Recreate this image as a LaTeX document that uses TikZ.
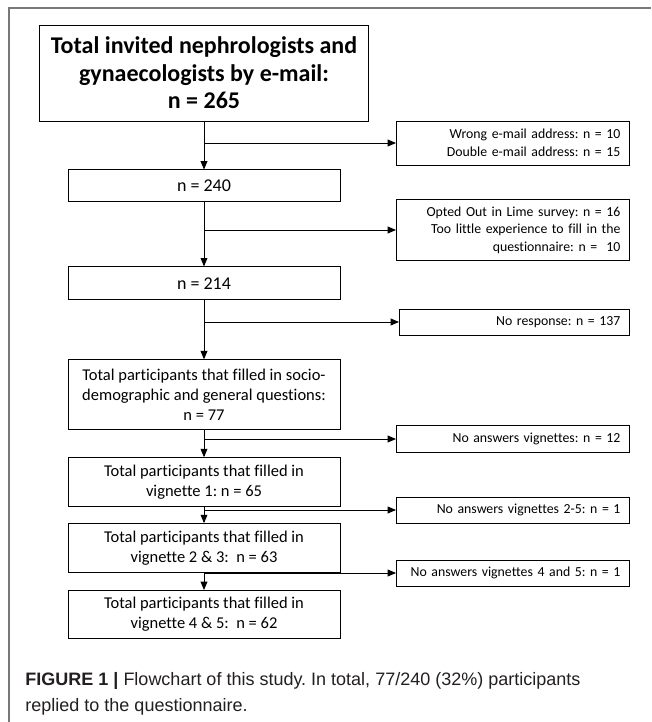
\documentclass[tikz,border=0pt]{standalone}
\usepackage{fontspec}
\setmainfont{Carlito}[Ligatures=CommonOff]
\newfontfamily\capfont{Liberation Sans}
\usetikzlibrary{arrows,positioning}
\definecolor{framegray}{RGB}{120,120,120}
\definecolor{captext}{RGB}{35,31,32}
\frenchspacing

\begin{document}
\begin{tikzpicture}[x=1pt,y=-1pt,->,>=triangle 45,line width=0.9pt,
  main box/.style={rectangle,draw,inner sep=0pt,minimum width=272pt,align=center,
    font=\fontsize{16.5}{20}\selectfont},
  side box/.style={rectangle,draw,inner sep=0pt,inner xsep=9pt,text width=215pt,
    align=right,anchor=west,font=\fontsize{13.8}{17.5}\selectfont}]

 \useasboundingbox (0,0) rectangle (651,722);
 \draw[-,framegray,line width=1.2pt] (9,722) -- (9,8) -- (651,8);

 \node[main box] (invited) at (204,73) [minimum width=329pt,minimum height=96pt,
   font=\fontsize{24}{27.5}\selectfont\bfseries] {Total invited nephrologists and\\gynaecologists by e-mail:\\n = 265};
 \node[main box] (n240) [below=48pt of invited,minimum height=32pt,font=\fontsize{18}{20}\selectfont] {n = 240};
 \node[main box] (n214) [below=64pt of n240,minimum height=33pt,font=\fontsize{18}{20}\selectfont] {n = 214};
 \node[main box] (socio) [below=59pt of n214,minimum height=70pt] {Total participants that filled in socio-\\demographic and general questions:\\n = 77};
 \node[main box] (vig1) [below=27pt of socio,minimum height=49pt] {Total participants that filled in\\vignette 1: n = 65};
 \node[main box] (vig23) [below=16pt of vig1,minimum height=49pt] {Total participants that filled in\\vignette 2 \& 3:~ n = 63};
 \node[main box] (vig45) [below=17pt of vig23,minimum height=48pt] {Total participants that filled in\\vignette 4 \& 5:~ n = 62};

 \node[side box] (email) at (396,143) [minimum height=44pt] {Wrong e-mail address: n = 10\\Double e-mail address: n = 15};
 \node[side box] (optout) at (396,230) [minimum height=61pt] {Opted Out in Lime survey: n = 16\\Too little experience to fill in the\\questionnaire: n = ~10};
 \node[side box] (noresp) at (399,322) [minimum height=26pt,text width=212pt] {No response: n = 137};
 \node[side box] (noans) at (396,439) [minimum height=27pt] {No answers vignettes: n = 12};
 \node[side box] (noans25) at (396,510) [minimum height=26pt] {No answers vignettes 2-5: n = 1};
 \node[side box] (noans45) at (396,573) [minimum height=26pt] {No answers vignettes 4 and 5: n = 1};

 \coordinate (s1) at (204,143);
 \coordinate (s2) at (204,230);
 \coordinate (s3) at (204,322);
 \coordinate (s4) at (204,439);
 \coordinate (s5) at (204,510);
 \coordinate (s6) at (204,573);

 \path
    (invited) edge (n240)
    (n240)    edge (n214)
    (n214)    edge (socio)
    (socio)   edge (vig1)
    (vig1)    edge (vig23)
    (vig23)   edge (vig45)
    (s1)      edge (email)
    (s2)      edge (optout)
    (s3)      edge (noresp)
    (s4)      edge (noans)
    (s5)      edge (noans25)
    (s6)      edge (noans45);

 \node[anchor=north west,inner sep=0pt,align=left,text=captext,
   font=\capfont\fontsize{18}{26}\selectfont] (caption) at (25,672)
   {\textbf{FIGURE 1 |} Flowchart of this study. In total, 77/240 (32\%) participants\\replied to the questionnaire.};
\end{tikzpicture}
\end{document}
